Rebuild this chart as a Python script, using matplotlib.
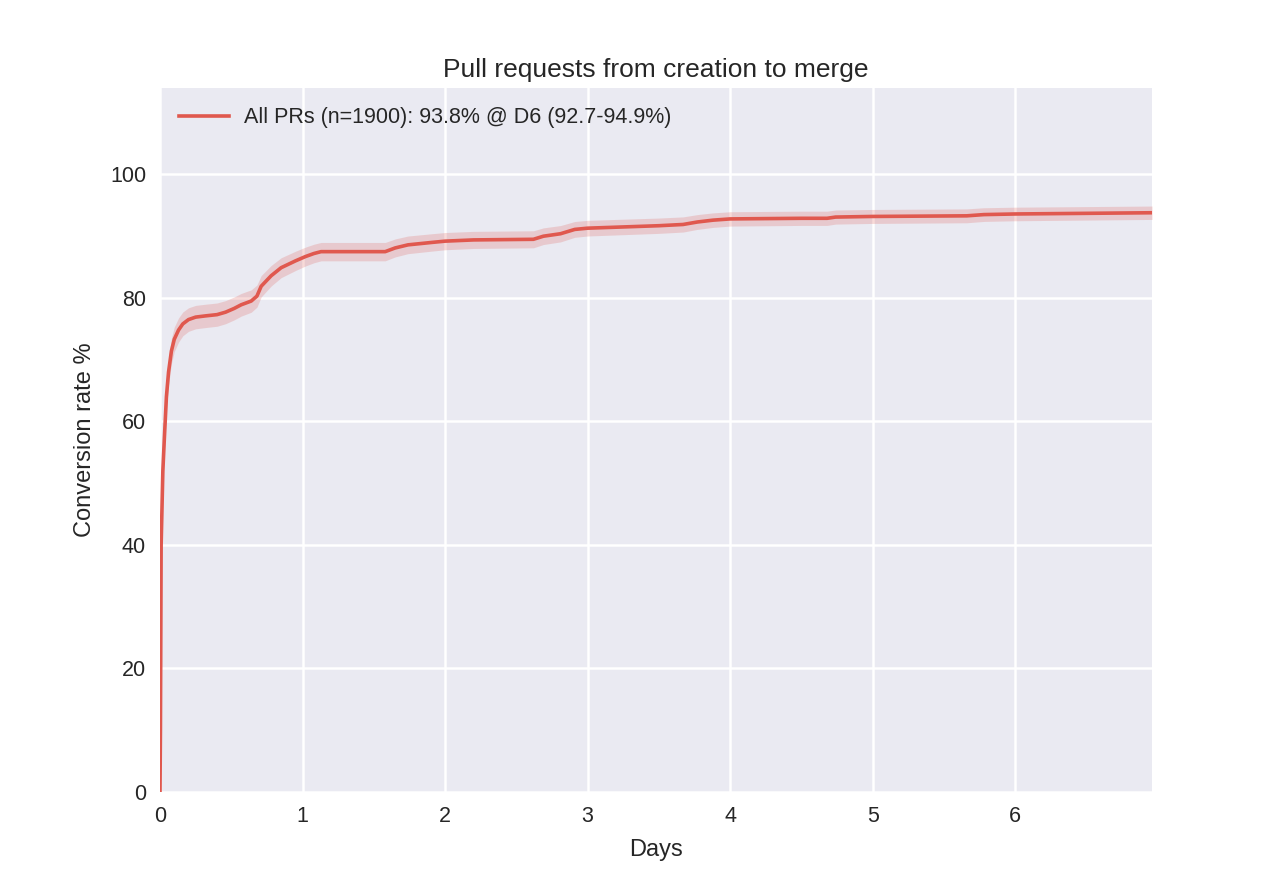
import numpy as np
import matplotlib
matplotlib.use('Agg')
import matplotlib.pyplot as plt

# conversion curve (days, % merged)
days = [0, 0.003, 0.008, 0.02, 0.03, 0.045, 0.06, 0.08, 0.1, 0.13, 0.16, 0.2, 0.25,
        0.32, 0.4, 0.46, 0.52, 0.57, 0.64, 0.68, 0.71, 0.78, 0.85, 0.95, 1.02,
        1.08, 1.13, 1.58, 1.65, 1.74, 1.91, 2.0, 2.2, 2.62, 2.69, 2.81, 2.91,
        3.0, 3.5, 3.67, 3.77, 3.88, 4.0, 4.5, 4.68, 4.74, 5.0, 5.66, 5.78, 6.0,
        6.96]
rate = [0, 10, 40, 52, 57, 64, 68, 71.4, 73.3, 74.8, 75.8, 76.5, 76.9,
        77.1, 77.3, 77.7, 78.3, 78.9, 79.5, 80.3, 81.9, 83.6, 84.9, 86.0, 86.7,
        87.2, 87.5, 87.5, 88.1, 88.6, 89.0, 89.2, 89.4, 89.5, 90.0, 90.4, 91.1,
        91.3, 91.7, 91.9, 92.3, 92.6, 92.8, 92.9, 92.9, 93.1, 93.2, 93.3, 93.5,
        93.6, 93.8]
n = 1900
label = 'All PRs (n=1900): 93.8% @ D6 (92.7-94.9%)'

days = np.array(days)
rate = np.array(rate)
p = rate / 100.0
half = 1.96 * np.sqrt(p * (1 - p) / n) * 100  # binomial 95% interval

plt.rcParams['font.family'] = ['Liberation Sans', 'DejaVu Sans']
fig = plt.figure(figsize=(12.8, 8.8), dpi=100)
fig.subplots_adjust(left=0.125, right=0.9, bottom=0.1, top=0.9)
ax = fig.add_subplot(111)
ax.set_facecolor('#EAEAF2')
for s in ax.spines.values():
    s.set_visible(False)
ax.grid(True, color='white', linewidth=1.8)
ax.set_axisbelow(True)
ax.tick_params(length=0, labelsize=15.5, colors='.15', pad=10)

col = '#e0584e'
ax.fill_between(days, rate - half, rate + half, color=col, alpha=0.22, linewidth=0)
ax.plot(days, rate, color=col, linewidth=2.6, label=label)

ax.set_xlim(0, 6.96)
ax.set_ylim(0, 114)
ax.set_xticks(range(0, 7))
ax.set_yticks(range(0, 101, 20))
ax.set_xlabel('Days', fontsize=17, color='.15', labelpad=9)
ax.set_ylabel('Conversion rate %', fontsize=17, color='.15', labelpad=10)
ax.set_title('Pull requests from creation to merge', fontsize=19, color='.15', pad=8)
ax.legend(loc='upper left', frameon=False, fontsize=15.5, handlelength=2.3,
          handletextpad=0.7, labelcolor='.15')

fig.savefig('out.png', dpi=100)
